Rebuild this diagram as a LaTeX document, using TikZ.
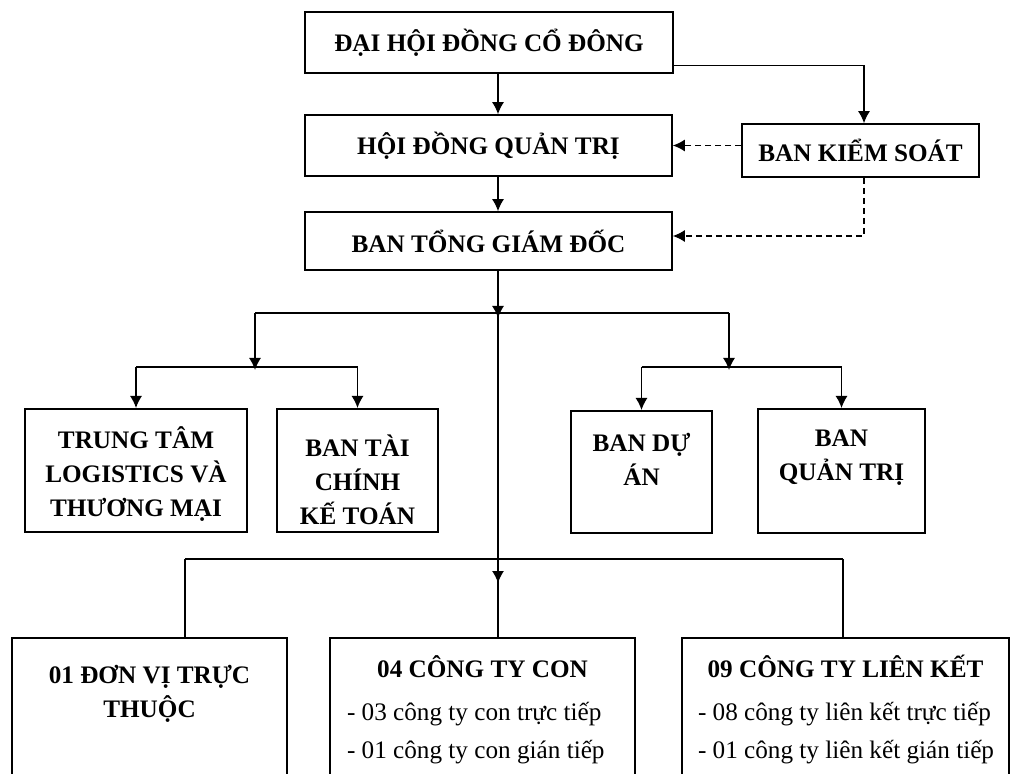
\documentclass[tikz,border=0pt]{standalone}
\usepackage{fontspec}
\setmainfont{Liberation Serif}
\usetikzlibrary{arrows.meta}

\newcommand{\unitfont}{\fontsize{12.6pt}{17pt}\selectfont}
\newcommand{\celltext}[4]{\parbox[c][#2][t]{#1}{\centering\rule{0pt}{#3}#4}}

\begin{document}
\begin{tikzpicture}[x=0.5pt, y=-0.5pt,
    unit/.style={draw, rectangle, line width=0.8pt, font=\unitfont\bfseries},
    cell/.style={unit, inner sep=0pt, anchor=north},
    link/.style={line width=0.7pt, -{Latex[length=6pt, width=6pt]}},
    wire/.style={line width=0.7pt},
    ctrl/.style={link, dash pattern=on 3pt off 2pt}]
      \clip (0,0) rectangle (1011,774);

      \node (dhdcd) [unit, minimum width=184pt, minimum height=30.5pt] at (489,42.5) {ĐẠI HỘI ĐỒNG CỔ ĐÔNG};
      \node (hdqt) [unit, minimum width=183.5pt, minimum height=30.5pt] at (488.5,145.5) {HỘI ĐỒNG QUẢN TRỊ};
      \node (btgd) [unit, minimum width=183.5pt, minimum height=29pt] at (488.5,241) {BAN TỔNG GIÁM ĐỐC};
      \node (bks) [unit, minimum width=118.5pt, minimum height=26.5pt] at (860.5,150.5) {BAN KIỂM SOÁT};

      \node (ttlog) [cell] at (136,408) {\celltext{111pt}{61.5pt}{20pt}{TRUNG TÂM\\LOGISTICS VÀ\\THƯƠNG MẠI}};
      \node (btc) [cell] at (357.5,408) {\celltext{80.5pt}{61.5pt}{24pt}{BAN TÀI\\CHÍNH\\KẾ TOÁN}};
      \node (bda) [cell] at (641.5,410) {\celltext{70.5pt}{61pt}{20.5pt}{BAN DỰ\\ÁN}};
      \node (bqt) [cell] at (841.5,408) {\celltext{83.5pt}{62pt}{19pt}{BAN\\QUẢN TRỊ}};

      \node (dvtt) [cell] at (149.5,637) {\celltext{137.5pt}{81.5pt}{23pt}{01 ĐƠN VỊ TRỰC\\THUỘC}};
      \node (cty) [cell] at (482.5,637) {\parbox[c][81.5pt][t]{152.5pt}{\centering\rule{0pt}{20pt}04 CÔNG TY CON\par
        \vspace{4.5pt}\raggedright\leftskip=8.5pt\mdseries
        - 03 công ty con trực tiếp\\[2pt]
        - 01 công ty con gián tiếp\par}};
      \node (ctlk) [cell] at (845.5,637) {\parbox[c][81.5pt][t]{163.5pt}{\centering\rule{0pt}{20pt}09 CÔNG TY LIÊN KẾT\par
        \vspace{4.5pt}\raggedright\leftskip=8pt\mdseries
        - 08 công ty liên kết trực tiếp\\[2pt]
        - 01 công ty liên kết gián tiếp\par}};

      \coordinate (sp) at (498,0);
      \coordinate (kx) at (864,0);
      \coordinate (fork) at (498,313);
      \coordinate (lsplit) at (255,367);
      \coordinate (rsplit) at (729,367);
      \coordinate (fork2) at (498,559);
      \coordinate (lb) at (185,559);
      \coordinate (rb) at (843,559);

      \draw [link] (dhdcd.south -| sp) -- (hdqt.north -| sp);
      \draw [link] (hdqt.south -| sp) -- (btgd.north -| sp);
      \draw [link] ([yshift=4pt]dhdcd.south east) -| (bks.north -| kx);
      \draw [ctrl] (bks.west |- hdqt.east) -- (hdqt.east);
      \draw [ctrl] (bks.south -| kx) |- ([yshift=2.5pt]btgd.east);

      \draw [link] (btgd.south -| sp) -- ([yshift=-2.5pt]fork);
      \draw [wire] (fork) -- (cty.north -| sp);
      \draw [link] (fork2) -- ([yshift=-12pt]fork2);

      \draw [wire] (lsplit |- fork) -- (rsplit |- fork);
      \draw [link] (lsplit |- fork) -- ([yshift=-1.5pt]lsplit);
      \draw [link] (rsplit |- fork) -- ([yshift=-1.5pt]rsplit);
      \draw [wire] (lsplit -| ttlog) -- (lsplit -| btc);
      \draw [wire] (rsplit -| bda) -- (rsplit -| bqt);
      \draw [link] (lsplit -| ttlog) -- (ttlog.north);
      \draw [link] (lsplit -| btc) -- (btc.north);
      \draw [link] (rsplit -| bda) -- (bda.north);
      \draw [link] (rsplit -| bqt) -- (bqt.north);

      \draw [wire] (lb) -- (rb);
      \draw [wire] (lb) -- (lb |- dvtt.north);
      \draw [wire] (rb) -- (rb |- ctlk.north);
    \end{tikzpicture}
\end{document}
